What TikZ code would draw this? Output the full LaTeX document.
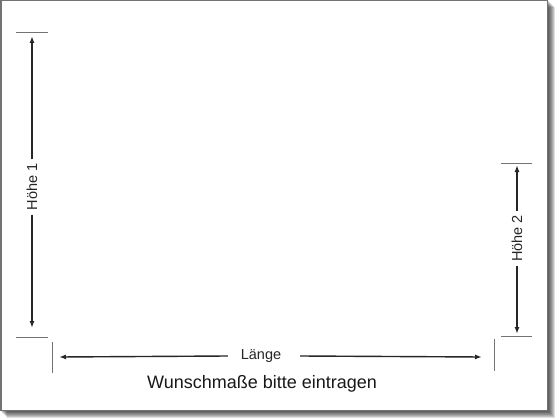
\documentclass[tikz,border=0pt]{standalone}
\usepackage{fontspec}
\setmainfont{Liberation Sans}
\usetikzlibrary{arrows.meta}
\begin{document}
\begin{tikzpicture}[x=1pt,y=-1pt,
  dim/.style={line width=1.4pt, draw=black!85, -{Latex[length=7pt,width=5pt]}},
  tickline/.style={line width=0.9pt, draw=black!55},
  lbl/.style={font=\fontsize{14.5}{17}\selectfont, text=black!85, inner xsep=4pt, inner ysep=0pt},
]
\useasboundingbox (0,0) rectangle (560,420);
% drop shadow
\foreach \d in {1,...,7}
  \fill[black, opacity=0.13] (\d,\d) rectangle (548+\d,411+\d);
% page
\fill[white] (0,0) rectangle (548,411);
\draw[black!55, line width=1.5pt] (0.75,0.75) rectangle (547.5,410.5);
% ticks
\draw[tickline] (16,32) -- (48,32);
\draw[tickline] (16,337) -- (48,337);
\draw[tickline] (52,342) -- (52,373);
\draw[tickline] (494,339) -- (494,371);
\draw[tickline] (501,336) -- (532,336);
\draw[tickline] (501,163) -- (532,163);
% arrow end points
\coordinate (h1top) at (32,36);
\coordinate (h1bot) at (32,328);
\coordinate (lenL) at (59,357);
\coordinate (lenR) at (482,357);
\coordinate (h2top) at (517,165);
\coordinate (h2bot) at (517,334);
% labels
\node[lbl, rotate=90] (h1) at (32,187) {Höhe 1};
\node[lbl, rotate=90] (h2) at (517,238.5) {Höhe 2};
\node[lbl, inner xsep=0pt, minimum width=72pt] (len) at (264,356) {\hspace*{-6pt}Länge};
\node[font=\fontsize{18}{21}\selectfont, text=black!90, inner sep=0pt] (wish) at (262,384) {Wunschmaße bitte eintragen};
% dimension arrows
\draw[dim] (h1.east) -- (h1top);
\draw[dim] (h1.west) -- (h1bot);
\draw[dim] (h2.east) -- (h2top);
\draw[dim] (h2.west) -- (h2bot);
\draw[dim] (len.west) -- (lenL);
\draw[dim] (len.east) -- (lenR);
\end{tikzpicture}
\end{document}
